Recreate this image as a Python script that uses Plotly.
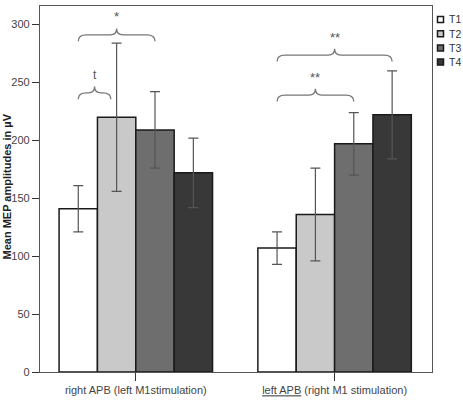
import plotly.graph_objects as go

# ---- data ----
groups = ["right APB (left M1stimulation)",
          '<span style="text-decoration:underline">left APB</span> (right M1 stimulation)']
series = ["T1", "T2", "T3", "T4"]
means = {
    "T1": [141, 107],
    "T2": [220, 136],
    "T3": [209, 197],
    "T4": [172, 222],
}
errors = {
    "T1": [20, 14],
    "T2": [64, 40],
    "T3": [33, 27],
    "T4": [30, 38],
}
colors = {"T1": "#ffffff", "T2": "#c9c9c9", "T3": "#6e6e6e", "T4": "#383838"}
# significance braces: (group index, start bar pos, end bar pos, level, label)
brace_group = [0, 0, 1, 1]
brace_start = [0, 0, 0, 0]
brace_end = [0.85, 2, 2, 3]
brace_level = [241, 291, 239, 273.5]
brace_label = ["t", "*", "**", "**"]
yticks = [0, 50, 100, 150, 200, 250, 300]

# ---- layout geometry ----
W, H = 463, 400
ML, MR, MT, MB = 40, 31, 6, 28
BARGAP = 0.228
XR = [-0.482, 1.49]
YR = [0, 316]
pw, ph = W - ML - MR, H - MT - MB

def px_x(px):
    return (px - ML) / pw

def px_y(py):
    return (H - MB - py) / ph

xpos = list(range(len(groups)))
fig = go.Figure()
for s in series:
    fig.add_trace(go.Bar(
        x=xpos, y=means[s], name=s,
        marker=dict(color=colors[s], line=dict(color="#1a1a1a", width=1.5)),
        error_y=dict(type="data", array=errors[s], color="#555555",
                     thickness=1.2, width=5),
        showlegend=False,
    ))

bw = (1 - BARGAP) / len(series)

def bar_center(g, i):
    return g + (i - (len(series) - 1) / 2) * bw

shapes = []
annotations = []
d = 5.5   # vertical size of brace ends (data units)
e = 0.04  # horizontal size of curls
for g, a, b, lv, lab in zip(brace_group, brace_start, brace_end, brace_level, brace_label):
    x0 = bar_center(g, a)
    x1 = bar_center(g, b)
    xm = (x0 + x1) / 2
    path = (f"M {x0},{lv-d} Q {x0},{lv} {x0+e},{lv} L {xm-e*0.8},{lv} "
            f"Q {xm},{lv} {xm},{lv+d} Q {xm},{lv} {xm+e*0.8},{lv} "
            f"L {x1-e},{lv} Q {x1},{lv} {x1},{lv-d}")
    shapes.append(dict(type="path", path=path, xref="x", yref="y",
                       line=dict(color="#777777", width=1.3)))
    annotations.append(dict(x=xm, y=lv + d + 2, xref="x", yref="y", text=lab,
                            showarrow=False, yanchor="bottom",
                            font=dict(size=12 if lab == "t" else 13, color="#555555")))

# manual legend
for k, s in enumerate(series):
    cy = 19.5 + k * 14.2
    shapes.append(dict(type="rect", xref="paper", yref="paper",
                       x0=px_x(437.5), x1=px_x(443.5), y0=px_y(cy + 3), y1=px_y(cy - 3),
                       fillcolor=colors[s], line=dict(color="#1a1a1a", width=1.5)))
    annotations.append(dict(x=px_x(447.5), y=px_y(cy), xref="paper", yref="paper",
                            text=s, showarrow=False, xanchor="left", yanchor="middle",
                            font=dict(size=10.5, color="#333333")))

# y-axis title
annotations.append(dict(x=px_x(6.5), y=px_y(187), xref="paper", yref="paper",
                        text="<b>Mean MEP amplitudes in µV</b>", textangle=-90,
                        showarrow=False, xanchor="center", yanchor="middle",
                        font=dict(size=11, color="#222222")))

fig.update_layout(
    width=W, height=H,
    margin=dict(l=ML, r=MR, t=MT, b=MB, autoexpand=False),
    paper_bgcolor="white", plot_bgcolor="white",
    barmode="group", bargap=BARGAP, bargroupgap=0,
    font=dict(family="Liberation Sans, Arial, sans-serif", size=11, color="#444444"),
    shapes=shapes, annotations=annotations,
    xaxis=dict(range=XR, tickvals=xpos, ticktext=groups, showgrid=False,
               zeroline=False, showline=True, linecolor="#555555", linewidth=1.2,
               mirror=True, ticks="outside", ticklen=8, tickcolor="#333333",
               tickfont=dict(size=11, color="#444444")),
    yaxis=dict(range=YR, tickvals=yticks, showgrid=False, zeroline=False,
               showline=True, linecolor="#555555", linewidth=1.2, mirror=True,
               ticks="outside", ticklen=7, tickcolor="#333333",
               tickfont=dict(size=11, color="#444444")),
)

fig.write_html("out.html")
